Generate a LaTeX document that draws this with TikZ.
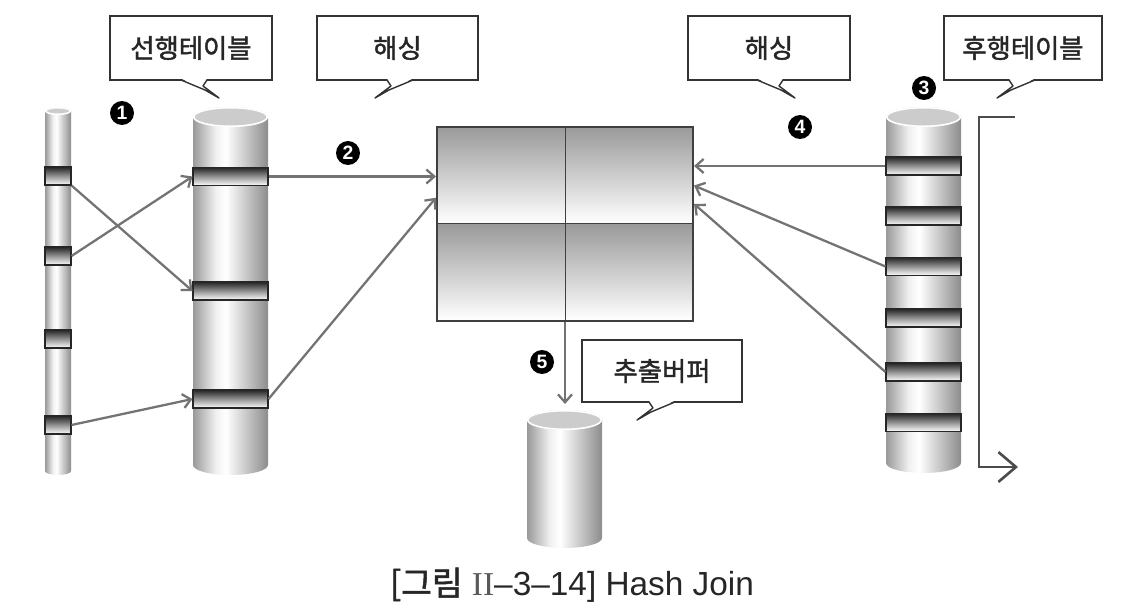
\documentclass[tikz,border=0pt]{standalone}
\usepackage{fontspec}
\setmainfont{Liberation Sans}
\newfontfamily\krfont[FakeBold=1.6]{Noto Sans CJK KR}
\newfontfamily\romfont{Liberation Serif}
\usetikzlibrary{positioning, calc, arrows.meta}

% light column in the middle, darker sides
\pgfdeclarehorizontalshading{cylshade}{100bp}{color(0bp)=(black!40); color(25bp)=(black!40); color(40bp)=(black!6); color(47bp)=(white); color(75bp)=(black!45); color(100bp)=(black!45)}

% table drum: centre x, half width, top y, bottom y, ellipse radius
\newcommand\drum[5]{%
  \shade[shading=cylshade] (#1-#2,#3+#5) -- (#1-#2,#4-#5)
    arc[start angle=180, end angle=360, x radius=#2*0.02cm, y radius=#5*0.02cm]
    -- (#1+#2,#3+#5) -- cycle;
  \fill[black!20] (#1,#3+#5) ellipse[x radius=#2*0.02cm, y radius=#5*0.02cm];
  \draw[white, line width=0.9pt] (#1,#3+#5) ellipse[x radius=#2*0.02cm-0.4pt, y radius=#5*0.02cm-0.4pt];
}

% callout tails: base point x, y
\newcommand\tailR[2]{%
  \fill[white] (#1,#2-1.5) -- (#1+24,#2+10) -- (#1+38,#2+18) -- (#1+22,#2+6) -- (#1+26,#2-1.5) -- cycle;
  \draw[tail] (#1,#2) -- (#1+24,#2+10) -- (#1+38,#2+18) -- (#1+22,#2+6) -- (#1+26,#2);
}
\newcommand\tailL[2]{%
  \fill[white] (#1,#2-1.5) -- (#1-24,#2+10) -- (#1-38,#2+18) -- (#1-22,#2+6) -- (#1-26,#2-1.5) -- cycle;
  \draw[tail] (#1,#2) -- (#1-24,#2+10) -- (#1-38,#2+18) -- (#1-22,#2+6) -- (#1-26,#2);
}

\tikzset{
  conn/.style={draw=black!55, line width=1.3pt, -{Straight Barb[length=4.5pt, width=8pt]}},
  scan/.style={draw=black!70, line width=1.5pt, -{Straight Barb[length=10pt, width=17pt]}},
  bar/.style={draw=black!85, line width=0.6pt, top color=black!85, bottom color=white, inner sep=0pt, minimum height=0.36cm},
  cell/.style={draw=black!75, line width=0.7pt, top color=black!40, bottom color=white, inner sep=0pt, minimum width=2.56cm, minimum height=1.94cm},
  callout/.style={draw=black!80, line width=0.8pt, fill=white, inner sep=0pt, minimum height=1.28cm, text=black!85, font=\krfont\fontsize{15}{18}\selectfont},
  tail/.style={draw=black!80, line width=0.8pt, line join=round},
  stepnum/.style={circle, fill=black, text=white, inner sep=0pt, minimum size=0.48cm, font=\bfseries\fontsize{11}{11}\selectfont},
}

\begin{document}
\begin{tikzpicture}[x=0.02cm, y=-0.02cm]
  \useasboundingbox (0,0) rectangle (1140,612);

  % drums
  \drum{58}{13}{107}{475}{4}
  \drum{230.5}{37.5}{107}{475}{10}
  \drum{923.5}{37.5}{107}{473}{10}
  \drum{564.5}{37.5}{410}{548}{10}

  % rows of the build input
  \node[bar, minimum width=0.52cm] (lb1) at (58,176) {};
  \node[bar, minimum width=0.52cm] (lb2) at (58,256) {};
  \node[bar, minimum width=0.52cm] (lb3) at (58,339) {};
  \node[bar, minimum width=0.52cm] (lb4) at (58,425) {};

  \node[bar, minimum width=1.5cm] (bb1) at (230.5,176.5) {};
  \node[bar, minimum width=1.5cm] (bb2) at (230.5,291) {};
  \node[bar, minimum width=1.5cm] (bb3) at (230.5,399) {};

  % rows of the probe input
  \foreach \i/\y in {1/166, 2/216, 3/266.5, 4/318, 5/372, 6/422.5}
    \node[bar, minimum width=1.5cm] (rb\i) at (923.5,\y) {};

  % hash table
  \node[cell] (h11) at (501.5,175) {};
  \node[cell] (h12) at (629.5,175) {};
  \node[cell] (h21) at (501.5,272) {};
  \node[cell] (h22) at (629.5,272) {};
  \node[draw=black!75, line width=1.2pt, inner sep=0pt, minimum width=5.12cm, minimum height=3.88cm] (hash) at (565,224) {};

  \coordinate (buf) at (565,404);
  \coordinate (s0) at (1015,117);
  \coordinate (s1) at (1018,467);

  % connectors
  \draw[conn] (lb1.south east) -- (bb2.west);
  \draw[conn] (lb2.east) -- (bb1.west);
  \draw[conn] (lb4.east) -- (bb3.west);
  \draw[conn] (bb1.east) -- (bb1.east -| hash.west);
  \draw[conn] (bb3.east) -- ($(hash.north west)!0.366!(hash.south west)$);
  \draw[conn] (rb1.west) -- (rb1.west -| hash.east);
  \draw[conn] (rb3.west) -- ($(hash.north east)!0.304!(hash.south east)$);
  \draw[conn] (rb5.west) -- ($(hash.north east)!0.397!(hash.south east)$);
  \draw[conn] (hash.south) -- (buf);
  \draw[scan] (s0) -- ++(-36,0) |- (s1);

  % callouts
  \node[callout, minimum width=3.24cm] (build) at (191,48) {선행테이블};
  \tailR{181}{80}
  \node[callout, minimum width=3.22cm] (hashL) at (397.5,48) {해싱};
  \tailL{413}{80}
  \node[callout, minimum width=3.24cm] (hashR) at (769,48) {해싱};
  \tailR{757}{80}
  \node[callout, minimum width=3.16cm] (probe) at (1023,48) {후행테이블};
  \tailL{1035}{80}
  \node[callout, minimum width=3.2cm, minimum height=1.24cm] (outbuf) at (662,371) {추출버퍼};
  \tailL{675}{402}

  % step numbers
  \node[stepnum] (n1) at (122,113) {1};
  \node[stepnum] (n2) at (348,153) {2};
  \node[stepnum] (n3) at (924,88) {3};
  \node[stepnum] (n4) at (800,127) {4};
  \node[stepnum] (n5) at (542,362) {5};

  % caption
  \node[font=\fontsize{19}{21}\selectfont, text=black!85] (cap) at (572,585)
    {{\krfont [그림} {\romfont\color{black!65}II}–3–14] Hash Join};
\end{tikzpicture}
\end{document}
